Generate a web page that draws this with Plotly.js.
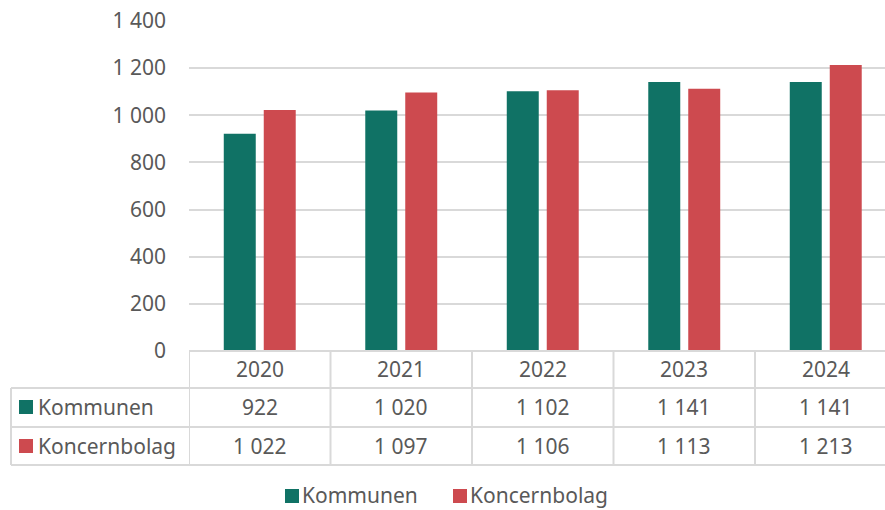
<!DOCTYPE html>
<html>
<head>
<meta charset="utf-8">
<script src="https://cdn.plot.ly/plotly-3.0.1.min.js"></script>
<style>html,body{margin:0;padding:0;background:#fff;}#chart{width:885px;height:510px;}</style>
</head>
<body>
<div id="chart"></div>
<script>
const years = ['2020', '2021', '2022', '2023', '2024'];
const kommunen = [922, 1020, 1102, 1141, 1141];
const koncernbolag = [1022, 1097, 1106, 1113, 1213];
const seriesNames = ['Kommunen', 'Koncernbolag'];
const seriesColors = ['#107265', '#CD4A4F'];
const yTicks = [0, 200, 400, 600, 800, 1000, 1200, 1400];

const FONT = 'Noto Sans, sans-serif';
const TXT = '#595959';
const GRID = '#d9d9d9';
const FS = 21;

function fmt(v) {
  return String(v).replace(/\B(?=(\d{3})+(?!\d))/g, ' ');
}

const series = [kommunen, koncernbolag];
const traces = series.map((vals, i) => ({
  type: 'bar',
  name: seriesNames[i],
  x: years,
  y: vals,
  marker: {color: seriesColors[i], line: {width: 0}},
  hoverinfo: 'skip'
}));

// geometry in paper units (plot area: x 189..885, y 21..351)
const W = 696, H = 330;
const py = px => -(px - 351) / H;       // pixel y -> paper y
const pxp = px => (px - 189) / W;       // pixel x -> paper x

const shapes = [];
const annotations = [];
const line = {color: GRID, width: 2};

// table horizontal lines
[388, 427, 465].forEach(yy => {
  shapes.push({type: 'line', xref: 'paper', yref: 'paper', x0: pxp(11), x1: 1, y0: py(yy), y1: py(yy), line});
});
shapes.push({type: 'line', xref: 'paper', yref: 'paper', x0: 0, x1: 1, y0: 0, y1: 0, line});
// left border of label column
shapes.push({type: 'line', xref: 'paper', yref: 'paper', x0: pxp(11), x1: pxp(11), y0: py(388), y1: py(465), line});
// category dividers
years.forEach((yr, i) => {
  shapes.push({type: 'line', xref: 'x', yref: 'paper', x0: i - 0.5, x1: i - 0.5, y0: 0, y1: py(465), line});
});

const tfont = {family: FONT, size: FS, color: TXT};
// header years
years.forEach((yr, i) => {
  annotations.push({xref: 'x', yref: 'paper', x: i, y: py(369), text: yr, showarrow: false,
    xanchor: 'center', yanchor: 'middle', font: tfont});
});
// data rows
const rowY = [407, 446];
series.forEach((vals, s) => {
  annotations.push({xref: 'paper', yref: 'paper', x: pxp(36), y: py(rowY[s]), text: seriesNames[s], showarrow: false,
    xanchor: 'left', yanchor: 'middle', font: tfont});
  shapes.push({type: 'rect', xref: 'paper', yref: 'paper', x0: pxp(19), x1: pxp(33),
    y0: py(rowY[s] - 7), y1: py(rowY[s] + 7), fillcolor: seriesColors[s], line: {width: 0}});
  vals.forEach((v, i) => {
    annotations.push({xref: 'x', yref: 'paper', x: i, y: py(rowY[s]), text: fmt(v), showarrow: false,
      xanchor: 'center', yanchor: 'middle', font: tfont});
  });
});

// bottom legend
const legX = [285, 453];
series.forEach((vals, s) => {
  shapes.push({type: 'rect', xref: 'paper', yref: 'paper', x0: pxp(legX[s]), x1: pxp(legX[s] + 14),
    y0: py(503), y1: py(489), fillcolor: seriesColors[s], line: {width: 0}});
  annotations.push({xref: 'paper', yref: 'paper', x: pxp(legX[s] + 16), y: py(495), text: seriesNames[s], showarrow: false,
    xanchor: 'left', yanchor: 'middle', borderpad: 0, font: tfont});
});

const layout = {
  width: 885, height: 510,
  margin: {l: 189, r: 0, t: 21, b: 159, pad: 0, autoexpand: false},
  paper_bgcolor: '#fff', plot_bgcolor: '#fff',
  barmode: 'group', bargap: 0.435, bargroupgap: 0.2,
  separators: ', ',
  font: {family: FONT, color: TXT, size: FS},
  xaxis: {type: 'category', range: [-0.5, -0.5 + W / 141.5], showticklabels: false, ticks: '',
    showgrid: false, zeroline: false, showline: false, fixedrange: true, automargin: false},
  yaxis: {range: [0, 1400], tickvals: yTicks, ticktext: yTicks.map(fmt), showgrid: true, gridcolor: GRID, gridwidth: 2,
    zeroline: false, showline: false, ticks: '', ticklabelstandoff: 22, automargin: false,
    tickfont: tfont, fixedrange: true},
  showlegend: false,
  shapes, annotations
};

Plotly.newPlot('chart', traces, layout, {displayModeBar: false, staticPlot: true});
</script>
</body>
</html>
